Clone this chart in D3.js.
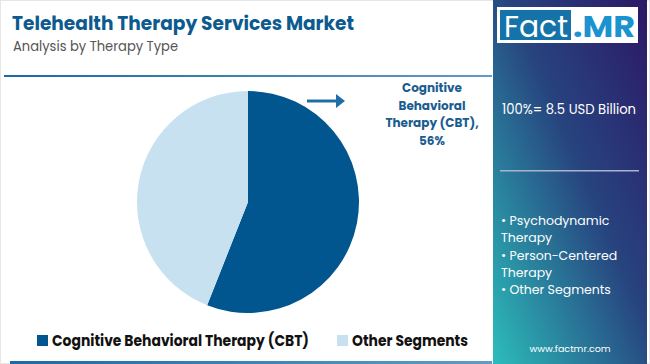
<!DOCTYPE html>
<html><head><meta charset="utf-8">
<script src="https://cdn.jsdelivr.net/npm/d3@7"></script>
<style>body{margin:0;background:#fff}svg{display:block}</style>
</head><body>
<svg id="c" width="650" height="364"></svg>
<script>
const categories = ["Cognitive Behavioral Therapy (CBT)", "Other Segments"];
const values = [56, 44];
const colors = ["#02568f", "#c7e1f1"];
const labelLines = ["Cognitive", "Behavioral", "Therapy (CBT),", "56%"];
const panelBullets = ["• Psychodynamic", "Therapy", "• Person-Centered", "Therapy", "• Other Segments"];
const totalText = "100%= 8.5 USD Billion";

const svg = d3.select("#c");
const F = "Poppins, 'DejaVu Sans', sans-serif";
const defs = svg.append("defs");
const g1 = defs.append("linearGradient").attr("id","pg").attr("x1","100%").attr("y1","0%").attr("x2","0%").attr("y2","100%");
g1.append("stop").attr("offset","0%").attr("stop-color","#2c1866");
g1.append("stop").attr("offset","45%").attr("stop-color","#27447f");
g1.append("stop").attr("offset","100%").attr("stop-color","#2cbdbb");
const g2 = defs.append("linearGradient").attr("id","lg").attr("x1","0%").attr("x2","100%");
g2.append("stop").attr("offset","0%").attr("stop-color","#1c6aa3");
g2.append("stop").attr("offset","100%").attr("stop-color","#5f9cc6");

// border
svg.append("rect").attr("x",0.5).attr("y",0.5).attr("width",649).attr("height",363).attr("fill","none").attr("stroke","#e6e6e6");

// title
svg.append("text").attr("x",12).attr("y",30).attr("font-family",F).attr("font-weight",700)
  .attr("font-size",19).attr("fill","#0d5a8f").attr("textLength",342).attr("lengthAdjust","spacingAndGlyphs")
  .text("Telehealth Therapy Services Market");
svg.append("text").attr("x",13).attr("y",51).attr("font-family",F)
  .attr("font-size",14).attr("fill","#555").attr("textLength",165).attr("lengthAdjust","spacingAndGlyphs")
  .text("Analysis by Therapy Type");

// lines
svg.append("rect").attr("x",4).attr("y",75).attr("width",488).attr("height",2).attr("fill","url(#lg)");
svg.append("rect").attr("x",10).attr("y",361).attr("width",482).attr("height",3).attr("fill","url(#lg)");

// pie
const cx = 248, cy = 202, r = 111;
const pie = d3.pie().sort(null).value(d => d)(values);
const arc = d3.arc().innerRadius(0).outerRadius(r);
svg.append("g").attr("transform",`translate(${cx},${cy})`)
  .selectAll("path").data(pie).join("path")
  .attr("d", arc).attr("fill", (d,i) => colors[i]);

// arrow
svg.append("line").attr("x1",307).attr("y1",101).attr("x2",338).attr("y2",101)
  .attr("stroke","#1e6fa8").attr("stroke-width",3);
svg.append("path").attr("d","M336,94 L345,101 L336,108 Z").attr("fill","#1e6fa8");

// label
const lab = svg.append("text").attr("font-family",F).attr("font-weight",700).attr("font-size",12)
  .attr("fill","#1a5c90").attr("text-anchor","middle");
labelLines.forEach((t,i) => lab.append("tspan").attr("x",432).attr("y",92+i*17.5).text(t));

// legend
const lx = [37, 337];
categories.forEach((c,i) => {
  svg.append("rect").attr("x",lx[i]).attr("y",335).attr("width",11).attr("height",11).attr("fill",colors[i]);
  svg.append("text").attr("x",lx[i]+15).attr("y",345.5).attr("font-family",F).attr("font-weight",700)
    .attr("font-size",15).attr("fill","#111")
    .attr("textLength", i===0 ? 257 : 116).attr("lengthAdjust","spacingAndGlyphs").text(c);
});

// panel
svg.append("rect").attr("x",493).attr("y",0).attr("width",154).attr("height",364).attr("fill","url(#pg)");
svg.append("rect").attr("x",497).attr("y",7).attr("width",141).attr("height",36).attr("fill","#fff");
svg.append("rect").attr("x",500).attr("y",10).attr("width",71).attr("height",30).attr("fill","#1673a9");
svg.append("text").attr("x",504).attr("y",37).attr("font-family",F).attr("font-size",30)
  .attr("fill","#fff").attr("textLength",64).attr("lengthAdjust","spacingAndGlyphs").text("Fact");
svg.append("text").attr("x",573).attr("y",37).attr("font-family",F).attr("font-weight",700).attr("font-size",30)
  .attr("fill","#1b93cf").attr("textLength",62).attr("lengthAdjust","spacingAndGlyphs").text(".MR");

svg.append("text").attr("x",502).attr("y",114).attr("font-family",F).attr("font-size",14)
  .attr("fill","#fff").attr("textLength",134).attr("lengthAdjust","spacingAndGlyphs").text(totalText);
svg.append("rect").attr("x",500).attr("y",170).attr("width",139).attr("height",1.5).attr("fill","#a9b3d0");

const bl = svg.append("text").attr("font-family",F).attr("font-size",12.5).attr("fill","#fff");
panelBullets.forEach((t,i) => bl.append("tspan").attr("x",501).attr("y",225+i*17.3).text(t));

svg.append("text").attr("x",570).attr("y",352).attr("text-anchor","middle").attr("font-family",F)
  .attr("font-size",9.5).attr("fill","#fff").text("www.factmr.com");
</script>
</body></html>
